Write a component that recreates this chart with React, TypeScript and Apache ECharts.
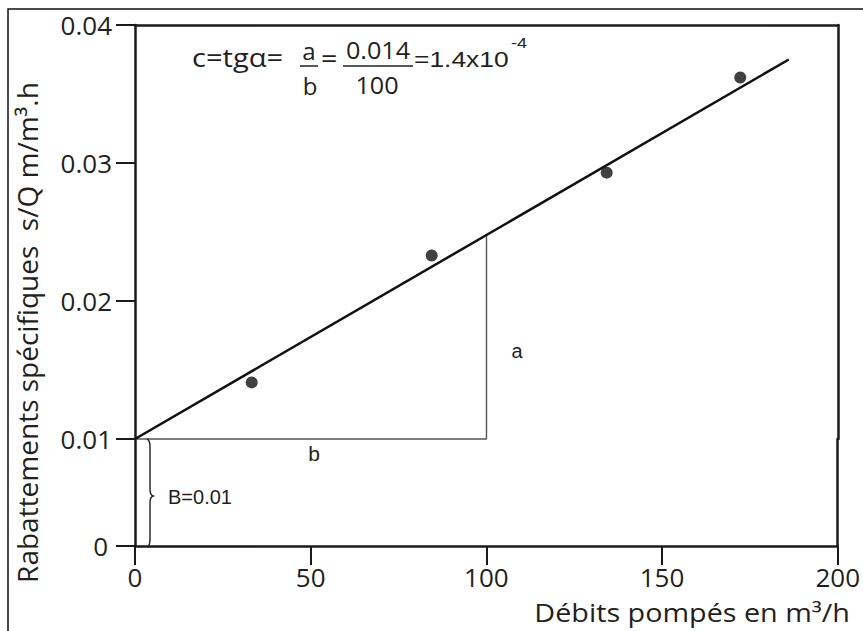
import React, { useEffect, useRef } from "react";
import * as echarts from "echarts";

// ---- data ----
const pointX = [33.2, 84.4, 134.2, 172.2];
const pointY = [0.0141, 0.0233, 0.0293, 0.0362];
const fitX = [0, 186];
const fitY = [0.01, 0.0375];
const triX = [0, 100, 100];
const triY = [0.01, 0.01, 0.0248];
const xTickStep = 50;
const yTickStep = 0.01;
const xRange = [0, 200];
const yUpperRange = [0.01, 0.04];
const yLowerRange = [0, 0.01];

const INK = "#231f20";
const OS = "'Open Sans', sans-serif";
const LS = "'Liberation Sans', Arial, sans-serif";

echarts.graphic.registerShape(
  "brace",
  echarts.graphic.extendPath(
    "M2 0 Q5 1 5 8 L5 50 Q5 56 8 57 Q5 58 5 64 L5 100 Q5 107 2 108",
    {}
  )
);

function txt(text: string, x: number, y: number, font: string, size: number, extra: any = {}) {
  const { align = "left", scaleX, rotation } = extra;
  const el: any = {
    type: "text",
    x,
    y,
    z: 100,
    style: {
      text,
      fill: INK,
      fontFamily: font,
      fontSize: size,
      align,
      verticalAlign: "middle",
    },
  };
  if (scaleX) el.scaleX = scaleX;
  if (rotation) el.rotation = rotation;
  return el;
}

function seg(x1: number, y1: number, x2: number, y2: number, w = 1.5) {
  return {
    type: "line",
    z: 100,
    shape: { x1, y1, x2, y2 },
    style: { stroke: INK, lineWidth: w },
  };
}

const axisLineStyle = { color: "#1a1a1a", width: 2.5 };

export default function App() {
  const ref = useRef<HTMLDivElement>(null);
  useEffect(() => {
    const chart = echarts.init(ref.current!, null, { renderer: "svg" });
    const zip = (xs: number[], ys: number[]) => xs.map((x, i) => [x, ys[i]]);
    chart.setOption({
      animation: false,
      backgroundColor: "#ffffff",
      grid: [
        { left: 135, top: 25, width: 703, height: 414 },
        { left: 135, top: 439, width: 703, height: 107 },
      ],
      xAxis: [
        {
          gridIndex: 0,
          type: "value",
          min: xRange[0],
          max: xRange[1],
          interval: xTickStep,
          position: "top",
          axisLine: { show: true, lineStyle: axisLineStyle },
          axisTick: { show: false },
          axisLabel: { show: false },
          splitLine: { show: false },
        },
        {
          gridIndex: 1,
          type: "value",
          min: xRange[0],
          max: xRange[1],
          interval: xTickStep,
          position: "bottom",
          axisLine: { show: true, lineStyle: axisLineStyle },
          axisTick: { show: true, inside: false, length: 19, lineStyle: { color: "#1a1a1a", width: 2 } },
          axisLabel: { show: true, margin: 18, fontFamily: OS, fontSize: 26, color: INK },
          splitLine: { show: false },
        },
      ],
      yAxis: [
        {
          gridIndex: 0,
          type: "value",
          min: yUpperRange[0],
          max: yUpperRange[1],
          interval: yTickStep,
          axisLine: { show: true, lineStyle: axisLineStyle },
          axisTick: { show: true, inside: false, length: 19, lineStyle: { color: "#1a1a1a", width: 2 } },
          axisLabel: {
            show: true,
            margin: 23,
            fontFamily: OS,
            fontSize: 26,
            color: INK,
            formatter: (v: number) => v.toFixed(2),
          },
          splitLine: { show: false },
        },
        {
          gridIndex: 0,
          type: "value",
          position: "right",
          min: yUpperRange[0],
          max: yUpperRange[1],
          interval: yTickStep,
          axisLine: { show: true, lineStyle: axisLineStyle },
          axisTick: { show: false },
          axisLabel: { show: false },
          splitLine: { show: false },
        },
        {
          gridIndex: 1,
          type: "value",
          min: yLowerRange[0],
          max: yLowerRange[1],
          interval: yTickStep,
          axisLine: { show: true, lineStyle: axisLineStyle },
          axisTick: { show: true, inside: false, length: 19, lineStyle: { color: "#1a1a1a", width: 2 } },
          axisLabel: {
            show: true,
            margin: 27,
            fontFamily: OS,
            fontSize: 26,
            color: INK,
            formatter: (v: number) => (v === 0 ? "0" : ""),
          },
          splitLine: { show: false },
        },
        {
          gridIndex: 1,
          type: "value",
          position: "right",
          min: yLowerRange[0],
          max: yLowerRange[1],
          interval: yTickStep,
          axisLine: { show: true, lineStyle: axisLineStyle },
          axisTick: { show: false },
          axisLabel: { show: false },
          splitLine: { show: false },
        },
      ],
      series: [
        {
          type: "line",
          name: "triangle",
          xAxisIndex: 0,
          yAxisIndex: 0,
          data: zip(triX, triY),
          symbol: "none",
          lineStyle: { color: "#555555", width: 1.4 },
          clip: false,
          z: 2,
        },
        {
          type: "line",
          name: "fit",
          xAxisIndex: 0,
          yAxisIndex: 0,
          data: zip(fitX, fitY),
          symbol: "none",
          lineStyle: { color: "#111111", width: 2.5 },
          clip: false,
          z: 3,
        },
        {
          type: "scatter",
          name: "points",
          xAxisIndex: 0,
          yAxisIndex: 0,
          data: zip(pointX, pointY),
          symbol: "circle",
          symbolSize: 12,
          itemStyle: { color: "#111111" },
          z: 4,
        },
      ],
      graphic: [
        {
          type: "rect",
          shape: { x: 8, y: 9, width: 1000, height: 800 },
          style: { fill: "none", stroke: "#111111", lineWidth: 1.5 },
          z: 1,
        },
        {
          type: "brace",
          x: 145,
          y: 439,
          z: 100,
          style: { fill: "none", stroke: INK, lineWidth: 1.4 },
        },
        // formula
        txt("c=tg\u03b1=", 192, 57, OS, 26, { scaleX: 1.12 }),
        txt("a", 309, 50, OS, 24, { align: "center" }),
        seg(300, 66, 318, 66),
        txt("b", 310, 85, OS, 24, { align: "center" }),
        txt("=", 321, 58, OS, 26, { scaleX: 1.1 }),
        txt("0.014", 378, 50, OS, 24, { align: "center", scaleX: 1.05 }),
        seg(343, 66, 413, 66),
        txt("100", 377, 85, OS, 24, { align: "center", scaleX: 1.05 }),
        txt("=1.4x10", 414, 59.4, LS, 22, { scaleX: 1.2 }),
        txt("-4", 511, 42.8, LS, 15, { scaleX: 1.2 }),
        // triangle / brace labels
        txt("a", 517, 351.4, LS, 20, { align: "center" }),
        txt("b", 314, 453.4, LS, 21, { align: "center" }),
        txt("B=0.01", 168, 497, LS, 20),
        // axis names
        txt("Rabattements sp\u00e9cifiques  s/Q m/m\u00b3.h", 27, 332.5, OS, 28, {
          align: "center",
          rotation: Math.PI / 2,
        }),
        txt("D\u00e9bits pomp\u00e9s en m\u00b3/h", 850, 612.5, OS, 25, { align: "right", scaleX: 1.15 }),
      ],
    });
    return () => chart.dispose();
  }, []);
  return (
    <div
      ref={ref}
      style={{ position: "fixed", left: 0, top: 0, width: 863, height: 631, background: "#fff" }}
    />
  );
}
